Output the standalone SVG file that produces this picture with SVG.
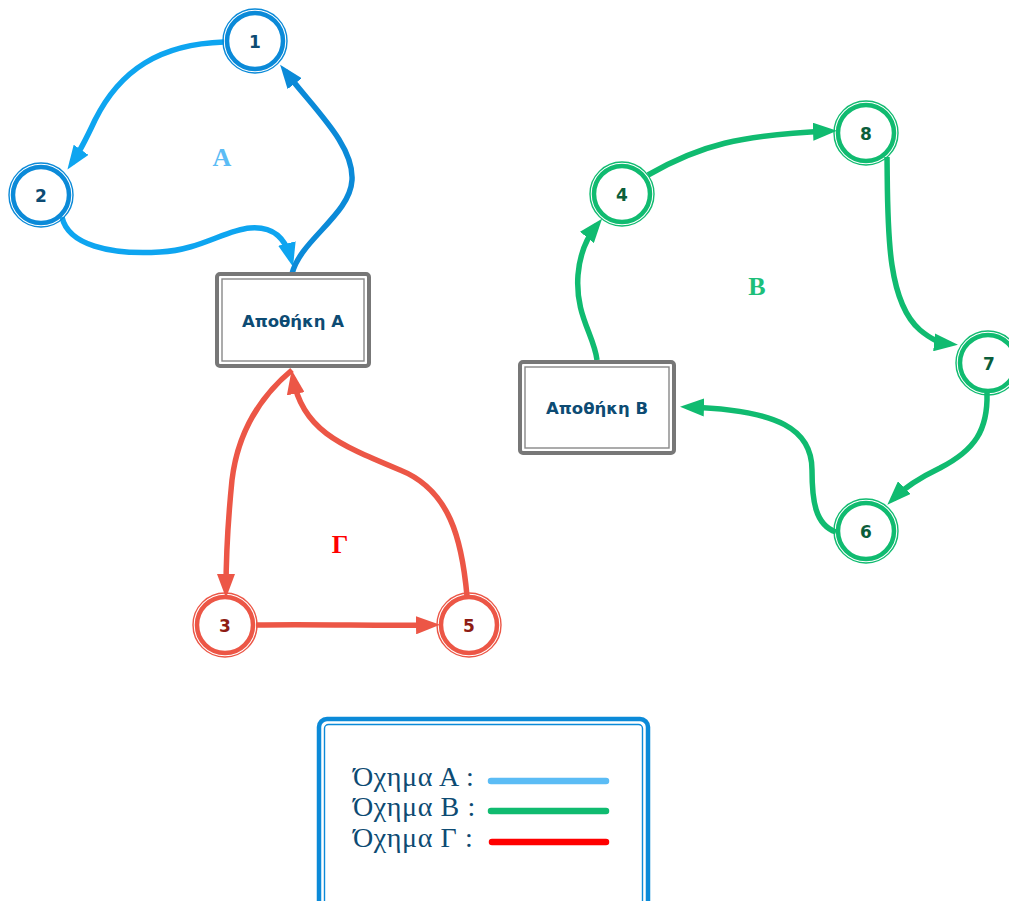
<svg xmlns="http://www.w3.org/2000/svg" width="1009" height="901" viewBox="0 0 1009 901">
  <style>
    .ring { fill: #fff; stroke-width: 4.5; }
    .halo { fill: none; stroke-width: 1.4; }
    .blue { stroke: #0b8ad8; }
    .green { stroke: #10bb70; }
    .red { stroke: #ec5646; }
    .num { font-family: "DejaVu Sans", "Liberation Sans", sans-serif; font-weight: bold; font-size: 17px; text-anchor: middle; dominant-baseline: central; }
    .num.b { fill: #0d4b73; }
    .num.g { fill: #0b5e3b; }
    .num.r { fill: #8e1c14; }
    .box { fill: #fff; stroke: #777; stroke-width: 4; }
    .boxin { fill: none; stroke: #888; stroke-width: 1.4; }
    .boxtxt { font-family: "DejaVu Sans", "Liberation Sans", sans-serif; font-weight: bold; font-size: 16.5px; fill: #0d4b73; text-anchor: middle; dominant-baseline: central; }
    .edge { fill: none; stroke-width: 5.5; stroke-linecap: butt; stroke-linejoin: round; }
    .routeLabel { font-family: "Liberation Serif", serif; font-weight: bold; font-size: 26px; text-anchor: middle; }
    .legtxt { font-family: "Liberation Serif", serif; font-size: 28px; letter-spacing: 0.6px; fill: #0d4b73; }
    .legline { fill: none; stroke-width: 6.5; stroke-linecap: round; }
  </style>
  <defs>
    <marker id="aBlue" markerUnits="userSpaceOnUse" viewBox="0 0 24 18" markerWidth="24" markerHeight="18" refX="16" refY="9" orient="auto">
      <path d="M0 0 L24 9 L0 18 z" fill="#0ea5f0"/>
    </marker>
    <marker id="aBlueDark" markerUnits="userSpaceOnUse" viewBox="0 0 24 18" markerWidth="24" markerHeight="18" refX="16" refY="9" orient="auto">
      <path d="M0 0 L24 9 L0 18 z" fill="#0b8ad8"/>
    </marker>
    <marker id="aRed" markerUnits="userSpaceOnUse" viewBox="0 0 24 18" markerWidth="24" markerHeight="18" refX="16" refY="9" orient="auto">
      <path d="M0 0 L24 9 L0 18 z" fill="#ec5646"/>
    </marker>
    <marker id="aGreen" markerUnits="userSpaceOnUse" viewBox="0 0 24 18" markerWidth="24" markerHeight="18" refX="16" refY="9" orient="auto">
      <path d="M0 0 L24 9 L0 18 z" fill="#10bb70"/>
    </marker>
  </defs>

  <!-- route connectors -->
  <g id="connectors">
    <path class="edge" stroke="#0ea5f0" marker-end="url(#aBlue)" d="M224 42 C160 44 120 70 95 120 C88 135 81 150 72 163"/>
    <path class="edge" stroke="#0ea5f0" marker-end="url(#aBlue)" d="M62 217 C68 245 110 255 160 252 C200 250 225 230 250 228 C275 226 286 240 291 259"/>
    <path class="edge" stroke="#0b8ad8" marker-end="url(#aBlueDark)" d="M292 274 C300 240 350 215 352 180 C354 145 315 110 285 71"/>

    <path class="edge" stroke="#ec5646" marker-end="url(#aRed)" d="M292 370 C262 395 238 430 232 480 C228 520 226 560 226 590"/>
    <path class="edge" stroke="#ec5646" marker-end="url(#aRed)" d="M467 596 C462 540 450 490 400 470 C340 445 302 430 293 378"/>
    <path class="edge" stroke="#ec5646" marker-end="url(#aRed)" d="M256 625 C320 624 380 626 432 625"/>

    <path class="edge" stroke="#10bb70" marker-end="url(#aGreen)" d="M597 360 C594 335 575 315 578 275 C580 250 588 236 597 225"/>
    <path class="edge" stroke="#10bb70" marker-end="url(#aGreen)" d="M648 175 C700 145 740 135 829 131"/>
    <path class="edge" stroke="#10bb70" marker-end="url(#aGreen)" d="M887 157 C888 220 885 300 920 330 C932 340 940 343 950 344"/>
    <path class="edge" stroke="#10bb70" marker-end="url(#aGreen)" d="M987 393 C988 430 975 450 940 468 C915 480 902 490 893 499"/>
    <path class="edge" stroke="#10bb70" marker-end="url(#aGreen)" d="M836 532 C815 525 812 500 812 470 C812 430 780 410 688 407"/>
  </g>

  <!-- route names -->
  <text class="routeLabel" x="222" y="166" fill="#5bbcf5">A</text>
  <text class="routeLabel" x="757" y="295" fill="#1dbf7a">B</text>
  <text class="routeLabel" x="340" y="553" fill="#ff0000">Γ</text>

  <!-- depots -->
  <g id="depotA">
    <rect class="box" x="217" y="274" width="152" height="92" rx="3"/>
    <rect class="boxin" x="222" y="279" width="142" height="82"/>
    <text class="boxtxt" x="293" y="321">Αποθήκη Α</text>
  </g>
  <g id="depotB">
    <rect class="box" x="520" y="362" width="154" height="91" rx="3"/>
    <rect class="boxin" x="525" y="367" width="144" height="81"/>
    <text class="boxtxt" x="597" y="408">Αποθήκη Β</text>
  </g>

  <!-- customer nodes -->
  <g id="node1">
    <circle class="ring blue" cx="255" cy="41" r="28"/><circle class="halo blue" cx="255" cy="41" r="32"/>
    <text class="num b" x="255" y="42">1</text>
  </g>
  <g id="node2">
    <circle class="ring blue" cx="41" cy="195" r="28"/><circle class="halo blue" cx="41" cy="195" r="32"/>
    <text class="num b" x="41" y="196">2</text>
  </g>
  <g id="node3">
    <circle class="ring red" cx="225" cy="625" r="28"/><circle class="halo red" cx="225" cy="625" r="32"/>
    <text class="num r" x="225" y="626">3</text>
  </g>
  <g id="node5">
    <circle class="ring red" cx="469" cy="625" r="28"/><circle class="halo red" cx="469" cy="625" r="32"/>
    <text class="num r" x="469" y="626">5</text>
  </g>
  <g id="node4">
    <circle class="ring green" cx="622" cy="194" r="28"/><circle class="halo green" cx="622" cy="194" r="32"/>
    <text class="num g" x="622" y="195">4</text>
  </g>
  <g id="node8">
    <circle class="ring green" cx="866" cy="133" r="28"/><circle class="halo green" cx="866" cy="133" r="32"/>
    <text class="num g" x="866" y="134">8</text>
  </g>
  <g id="node7">
    <circle class="ring green" cx="988" cy="363" r="28"/><circle class="halo green" cx="988" cy="363" r="32"/>
    <text class="num g" x="989" y="364">7</text>
  </g>
  <g id="node6">
    <circle class="ring green" cx="866" cy="531" r="28"/><circle class="halo green" cx="866" cy="531" r="32"/>
    <text class="num g" x="866" y="532">6</text>
  </g>

  <!-- legend -->
  <g id="legend">
    <rect x="319" y="719" width="329" height="200" rx="8" fill="#fff" stroke="#0b8ad8" stroke-width="4.5"/>
    <rect x="324.5" y="724.5" width="318" height="190" rx="4" fill="none" stroke="#0b8ad8" stroke-width="1.4"/>
    <path class="legline" stroke="#5bbcf5" d="M491 781 L606 781"/>
    <path class="legline" stroke="#10bb70" d="M491 811 L606 811"/>
    <path class="legline" stroke="#ff0000" d="M492 842 L606 842"/>
    <text class="legtxt" x="353" y="786">Όχημα Α :</text>
    <text class="legtxt" x="353" y="816">Όχημα Β :</text>
    <text class="legtxt" x="353" y="847">Όχημα Γ :</text>
  </g>
</svg>
